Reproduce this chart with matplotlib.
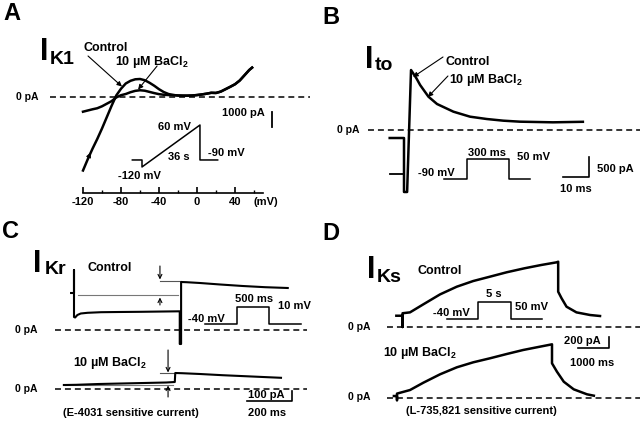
import matplotlib
matplotlib.use("Agg")
import matplotlib.pyplot as plt

plt.rcParams['font.family'] = ['Liberation Sans', 'DejaVu Sans']
plt.rcParams['font.weight'] = 'bold'
plt.rcParams['axes.unicode_minus'] = False
plt.rcParams['mathtext.fontset'] = 'custom'
plt.rcParams['mathtext.rm'] = 'Liberation Sans:bold'
plt.rcParams['mathtext.bf'] = 'Liberation Sans:bold'
plt.rcParams['mathtext.it'] = 'Liberation Sans:bold:italic'
plt.rcParams['mathtext.default'] = 'rm'

# A: IK1 during a voltage ramp (mV, pA)
ik1_mv = [-120, -115, -110, -105, -100, -95, -90, -85, -80, -75, -70, -65, -60,
          -55, -50, -45, -40, -35, -30, -25, -20, -15, -10, -5, 0, 5, 10, 15,
          20, 25, 30, 35, 40, 45, 50, 55, 58]
ik1_control = [-4900, -4150, -3450, -2800, -2100, -1350, -600, 100, 550, 900,
               1080, 1180, 1200, 1120, 950, 750, 520, 330, 200, 130, 100, 90,
               90, 100, 130, 170, 220, 280, 270, 360, 520, 680, 850, 1100,
               1450, 1800, 1960]
ik1_bacl2 = [-980, -900, -820, -750, -620, -450, -280, -30, 120, 200, 320, 410,
             450, 420, 340, 260, 190, 150, 130, 130, 100, 90, 90, 100, 130,
             170, 220, 280, 270, 360, 520, 680, 850, 1100, 1450, 1800, 1960]
ramp_t = [-6, 0, 0, 36, 36, 47]          # s
ramp_v = [-90, -90, -120, 60, -90, -90]  # mV
mv_ticks = [-120, -80, -40, 0, 40]

# B: Ito (ms, pA)
ito_t = [-5.5, 0, 0, 1.2, 2.7, 4.8, 6.2, 9.4, 12.7, 19.0, 25.4, 31.8, 38.2,
         44.6, 57.3, 68.8]
ito_i = [-200, -200, -1550, -1550, 1500, 1290, 1125, 833, 650, 458, 333, 275,
         233, 208, 192, 205]
ito_hold_t = [-5.5, 0]
ito_hold_i = [-1100, -1100]
ito_prot_t = [-165, 0, 0, 300, 300, 450]
ito_prot_v = [-90, -90, 50, 50, -90, -90]

# C: IKr (ms, pA)
ikr_ctrl_t = [-13, 0, 0, 0, 5, 15, 30, 60, 120, 200, 300, 400, 470, 470, 476,
              476, 500, 560, 650, 750, 850, 950]
ikr_ctrl_i = [370, 370, 600, 130, 125, 150, 165, 172, 178, 180, 182, 185, 187,
              -140, -140, 480, 478, 470, 455, 440, 428, 420]
ikr_ba_t = [-5, 0, 50, 150, 250, 350, 450, 488, 490, 520, 600, 700, 800, 900,
            960]
ikr_ba_i = [40, 40, 42, 50, 55, 60, 65, 70, 160, 158, 150, 138, 128, 118, 112]
ikr_prot_t = [-500, 0, 0, 500, 500, 1000]
ikr_prot_v = [-40, -40, 10, 10, -40, -40]

# D: IKs (s, pA)
iks_ctrl_t = [-0.15, 0.05, 0.05, 0.05, 0.29, 0.72, 1.26, 1.80, 2.33, 2.87,
              3.41, 3.98, 4.52, 5.02, 5.07, 5.07, 5.18, 5.34, 5.66, 6.10, 6.42]
iks_ctrl_i = [205, 205, 0, 250, 266, 412, 593, 733, 836, 915, 995, 1067, 1127,
              1176, 1187, 642, 522, 369, 266, 218, 200]
iks_ba_t = [-0.1, 0, 0, 0, 0.42, 0.85, 1.39, 1.93, 2.46, 3.0, 3.54, 4.07, 4.61,
            5.0, 5.0, 5.16, 5.38, 5.7, 6.13, 6.35]
iks_ba_i = [36, 36, -40, 80, 145, 278, 431, 558, 649, 722, 800, 873, 933, 976,
            631, 478, 296, 158, 67, 42]
iks_prot_t = [-4.7, 0, 0, 5, 5, 9.7]
iks_prot_v = [-40, -40, 50, 50, -40, -40]

W, H = 640, 422
fig = plt.figure(figsize=(6.4, 4.22), dpi=100)
fig.patch.set_facecolor('white')


def scaled_axes(box, x0, sx, y0, sy, off=True):
    # box in pixels (left, top, right, bottom); x0/y0 = pixel of data zero
    l, t, r, b = box
    ax = fig.add_axes([l / W, 1 - b / H, (r - l) / W, (b - t) / H])
    ax.set_xlim((l - x0) / sx, (r - x0) / sx)
    ax.set_ylim((y0 - b) / sy, (y0 - t) / sy)
    ax.patch.set_visible(False)
    if off:
        ax.axis('off')
    return ax


def label(x, y, s, size=8, **kw):
    fig.text(x / W, 1 - y / H, s, fontsize=size, va='center', **kw)


def zero_line(ax):
    ax.axhline(0, color='k', lw=1.1, ls=(0, (3.9, 2.6)))


def trace(ax, x, y, lw=1.8):
    ax.plot(x, y, color='k', lw=lw, solid_joinstyle='round')


def arrow(ax, start, end, style='-|>'):
    ax.annotate('', xy=end, xytext=start,
                arrowprops=dict(arrowstyle=style, color='k', lw=0.8,
                                mutation_scale=7, shrinkA=0, shrinkB=0))


# ---- A ----
axA = scaled_axes((50, 30, 310, 193), 197, 0.95, 97, 0.015, off=False)
for s in ['left', 'right', 'top']:
    axA.spines[s].set_visible(False)
axA.spines['bottom'].set_bounds(-120, 69)
axA.spines['bottom'].set_linewidth(1.2)
axA.set_yticks([])
axA.set_xticks(mv_ticks)
axA.set_xticklabels([str(v) for v in mv_ticks])
axA.set_xticks([-100, -60, -20, 20, 60], minor=True)
axA.tick_params(axis='x', which='major', direction='in', length=4, width=1.2,
                labelsize=8, pad=3)
axA.tick_params(axis='x', which='minor', direction='in', length=2.5, width=1)
zero_line(axA)
trace(axA, ik1_mv, ik1_control)
trace(axA, ik1_mv, ik1_bacl2)
arrow(axA, (-115, -4150), (-112, -3700))
axA.plot([79, 79], [-1000, -2000], color='k', lw=1.3)
arrow(axA, (-114.7, 2733), (-79, 700))
arrow(axA, (-42, 2067), (-62, 500))
pA = scaled_axes((125, 118, 225, 172), 142, 1.61, 139, 0.233)
pA.plot(ramp_t, ramp_v, color='k', lw=1.1)

label(3, 13, 'A', size=17)
label(40, 52, 'I', size=22)
label(50, 60, 'K1', size=14)
label(83, 48, 'Control', size=9)
label(115, 62, '10 µM BaCl$_2$', size=9)
label(16, 97, '0 pA', size=7.5)
label(222, 113, '1000 pA', size=8)
label(158, 127, '60 mV', size=8)
label(208, 153, '-90 mV', size=8)
label(168, 157, '36 s', size=8)
label(118, 176, '-120 mV', size=8)
label(253, 202, '(mV)', size=8)

# ---- B ----
axB = scaled_axes((368, 40, 640, 200), 404, 2.6, 130, 0.04)
zero_line(axB)
trace(axB, ito_t, ito_i)
trace(axB, ito_hold_t, ito_hold_i, lw=1.3)
axB.plot([61.2, 71.2, 71.2], [-1175, -1175, -675], color='k', lw=1.2)
arrow(axB, (15, 1825), (3.5, 1325))
arrow(axB, (16.9, 1350), (9.2, 825))
pB = scaled_axes((435, 150, 540, 185), 467, 0.14, 166.1, 0.143)
pB.plot(ito_prot_t, ito_prot_v, color='k', lw=1.1)

label(322, 17, 'B', size=17)
label(365, 60, 'I', size=22)
label(375, 66, 'to', size=14)
label(445, 62, 'Control', size=9)
label(449, 80, '10 µM BaCl$_2$', size=9)
label(337, 130, '0 pA', size=7.5)
label(418, 173, '-90 mV', size=8)
label(468, 153, '300 ms', size=8)
label(517, 157, '50 mV', size=8)
label(597, 169, '500 pA', size=8)
label(560, 189, '10 ms', size=8)

# ---- C ----
axC1 = scaled_axes((55, 240, 307, 350), 74, 0.225, 330, 0.1)
zero_line(axC1)
axC1.plot([18, 462], [350, 350], color='#777777', lw=0.8)
axC1.plot([382, 476], [490, 490], color='#555555', lw=0.8)
trace(axC1, ikr_ctrl_t, ikr_ctrl_i, lw=1.5)
arrow(axC1, (382, 640), (382, 505), style='->')
arrow(axC1, (382, 250), (382, 325), style='->')
pC = scaled_axes((200, 300, 310, 330), 237, 0.064, 310.4, 0.34)
pC.plot(ikr_prot_t, ikr_prot_v, color='k', lw=1.1)

axC2 = scaled_axes((55, 345, 307, 406), 65, 0.225, 389, 0.1)
zero_line(axC2)
axC2.plot([0, 480], [45, 45], color='#777777', lw=0.8)
axC2.plot([422, 490], [160, 160], color='#555555', lw=0.8)
trace(axC2, ikr_ba_t, ikr_ba_i, lw=1.5)
arrow(axC2, (458, 390), (458, 165), style='->')
arrow(axC2, (458, -80), (458, 35), style='->')
axC2.plot([809, 1009, 1009], [-120, -120, -20], color='k', lw=1.2)

label(2, 231, 'C', size=17)
label(33, 264, 'I', size=22)
label(45, 270, 'Kr', size=14)
label(87, 268, 'Control', size=9)
label(15, 330, '0 pA', size=7.5)
label(188, 319, '-40 mV', size=8)
label(235, 299, '500 ms', size=8)
label(278, 306, '10 mV', size=8)
label(73, 363, '10 µM BaCl$_2$', size=9)
label(15, 389, '0 pA', size=7.5)
label(248, 395, '100 pA', size=8)
label(248, 413, '200 ms', size=8)
label(63, 413, '(E-4031 sensitive current)', size=8)

# ---- D ----
axD1 = scaled_axes((387, 250, 640, 335), 401, 31, 327, 0.055)
zero_line(axD1)
trace(axD1, iks_ctrl_t, iks_ctrl_i)
pD = scaled_axes((440, 295, 550, 325), 478, 6.6, 311.4, 0.189)
pD.plot(iks_prot_t, iks_prot_v, color='k', lw=1.1)

axD2 = scaled_axes((387, 335, 640, 405), 397, 31, 398, 0.055)
zero_line(axD2)
trace(axD2, iks_ba_t, iks_ba_i)
axD2.plot([5.84, 6.84, 6.84], [909, 909, 1109], color='k', lw=1.2)

label(322, 234, 'D', size=17)
label(367, 270, 'I', size=22)
label(377, 277, 'Ks', size=14)
label(417, 271, 'Control', size=9)
label(348, 327, '0 pA', size=7.5)
label(433, 313, '-40 mV', size=8)
label(486, 294, '5 s', size=8)
label(515, 307, '50 mV', size=8)
label(383, 353, '10 µM BaCl$_2$', size=9)
label(348, 397, '0 pA', size=7.5)
label(564, 341, '200 pA', size=8)
label(570, 363, '1000 ms', size=8)
label(406, 411, '(L-735,821 sensitive current)', size=8)

fig.savefig('out.png', dpi=100)
